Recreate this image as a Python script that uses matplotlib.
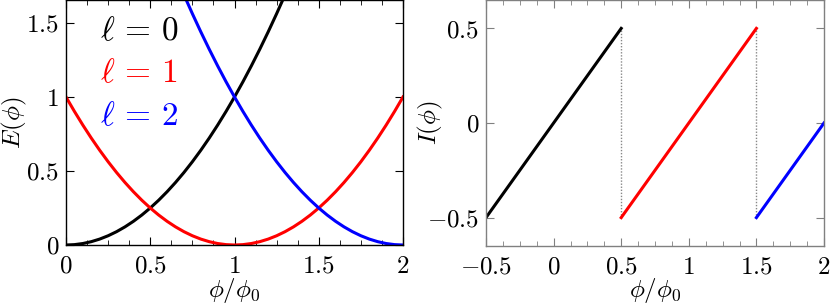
import matplotlib
matplotlib.use("Agg")
import matplotlib.pyplot as plt
from matplotlib.ticker import MultipleLocator

plt.rcParams['mathtext.fontset'] = 'cm'
plt.rcParams['font.family'] = ['DejaVu Serif']

# ---- data ----
phi_l0 = [0.00, 0.05, 0.10, 0.15, 0.20, 0.25, 0.30, 0.35, 0.40, 0.45, 0.50, 0.55, 0.60,
          0.65, 0.70, 0.75, 0.80, 0.85, 0.90, 0.95, 1.00, 1.05, 1.10, 1.15, 1.20, 1.25, 1.30]
E_l0 = [0.0, 0.0025, 0.01, 0.0225, 0.04, 0.0625, 0.09, 0.1225, 0.16, 0.2025, 0.25, 0.3025, 0.36,
        0.4225, 0.49, 0.5625, 0.64, 0.7225, 0.81, 0.9025, 1.0, 1.1025, 1.21, 1.3225, 1.44, 1.5625, 1.69]

phi_l1 = [0.00, 0.05, 0.10, 0.15, 0.20, 0.25, 0.30, 0.35, 0.40, 0.45, 0.50, 0.55, 0.60, 0.65,
          0.70, 0.75, 0.80, 0.85, 0.90, 0.95, 1.00, 1.05, 1.10, 1.15, 1.20, 1.25, 1.30, 1.35,
          1.40, 1.45, 1.50, 1.55, 1.60, 1.65, 1.70, 1.75, 1.80, 1.85, 1.90, 1.95, 2.00]
E_l1 = [1.0, 0.9025, 0.81, 0.7225, 0.64, 0.5625, 0.49, 0.4225, 0.36, 0.3025, 0.25, 0.2025, 0.16,
        0.1225, 0.09, 0.0625, 0.04, 0.0225, 0.01, 0.0025, 0.0, 0.0025, 0.01, 0.0225, 0.04, 0.0625,
        0.09, 0.1225, 0.16, 0.2025, 0.25, 0.3025, 0.36, 0.4225, 0.49, 0.5625, 0.64, 0.7225, 0.81,
        0.9025, 1.0]

phi_l2 = [0.70, 0.75, 0.80, 0.85, 0.90, 0.95, 1.00, 1.05, 1.10, 1.15, 1.20, 1.25, 1.30, 1.35,
          1.40, 1.45, 1.50, 1.55, 1.60, 1.65, 1.70, 1.75, 1.80, 1.85, 1.90, 1.95, 2.00]
E_l2 = [1.69, 1.5625, 1.44, 1.3225, 1.21, 1.1025, 1.0, 0.9025, 0.81, 0.7225, 0.64, 0.5625, 0.49,
        0.4225, 0.36, 0.3025, 0.25, 0.2025, 0.16, 0.1225, 0.09, 0.0625, 0.04, 0.0225, 0.01,
        0.0025, 0.0]

I_phi_l0 = [-0.5, 0.5]
I_l0 = [-0.5, 0.5]
I_phi_l1 = [0.5, 1.5]
I_l1 = [-0.5, 0.5]
I_phi_l2 = [1.5, 2.0]
I_l2 = [-0.5, 0.0]
jump_phi = [0.5, 1.5]
jump_lo = -0.5
jump_hi = 0.5

labels = [r'$\ell\,=\,0$', r'$\ell\,=\,1$', r'$\ell\,=\,2$']
colors = ['black', 'red', 'blue']

left_xticks = [0, 0.5, 1, 1.5, 2]
left_xticklabels = ['$0$', '$0.5$', '$1$', '$1.5$', '$2$']
left_yticks = [0, 0.5, 1, 1.5]
left_yticklabels = ['$0$', '$0.5$', '$1$', '$1.5$']
right_xticks = [-0.5, 0, 0.5, 1, 1.5, 2]
right_xticklabels = ['$-0.5$', '$0$', '$0.5$', '$1$', '$1.5$', '$2$']
right_yticks = [-0.5, 0, 0.5]
right_yticklabels = ['$-0.5$', '$0$', '$0.5$']

# ---- figure ----
fig = plt.figure(figsize=(8.3, 3.03), dpi=100)
W, H = 830, 303
ax1 = fig.add_axes([66 / W, 1 - 245 / H, (403 - 66) / W, 245 / H])
ax2 = fig.add_axes([486 / W, 1 - 246 / H, (824 - 486) / W, 246 / H])

lw = 2.2
ax1.plot(phi_l0, E_l0, color=colors[0], lw=lw)
ax1.plot(phi_l1, E_l1, color=colors[1], lw=lw)
ax1.plot(phi_l2, E_l2, color=colors[2], lw=lw)
ax1.set_xlim(0, 2)
ax1.set_ylim(0, 1.655)

baselines = [0.837, 0.665, 0.49]
for lab, c, yb in zip(labels, colors, baselines):
    ax1.text(0.1, yb, lab, transform=ax1.transAxes, color=c,
             fontsize=24, ha='left', va='baseline')

ax2.plot(I_phi_l0, I_l0, color=colors[0], lw=lw)
ax2.plot(I_phi_l1, I_l1, color=colors[1], lw=lw)
ax2.plot(I_phi_l2, I_l2, color=colors[2], lw=lw)
for xp in jump_phi:
    ax2.plot([xp, xp], [jump_lo, jump_hi], color='#888888', lw=1.0,
             ls=(0, (1, 1.2)), zorder=1)
ax2.set_xlim(-0.5, 2)
ax2.set_ylim(-0.65, 0.65)

fs = 18
for ax, xt, xtl, yt, ytl, sc in [
        (ax1, left_xticks, left_xticklabels, left_yticks, left_yticklabels, 'black'),
        (ax2, right_xticks, right_xticklabels, right_yticks, right_yticklabels, '#808080')]:
    ax.set_xticks(xt)
    ax.set_xticklabels(xtl, fontsize=fs)
    ax.set_yticks(yt)
    ax.set_yticklabels(ytl, fontsize=fs)
    ax.xaxis.set_minor_locator(MultipleLocator(0.125))
    ax.tick_params(which='both', direction='in', top=True, right=True, color=sc)
    ax.tick_params(which='major', length=5.8, width=0.8)
    ax.tick_params(which='minor', length=3.3, width=0.6)
    ax.tick_params(axis='x', which='major', pad=7)
    ax.tick_params(axis='y', which='major', pad=5)
    for s in ax.spines.values():
        s.set_color(sc)
        s.set_linewidth(1.0)
    ax.set_xlabel(r'$\phi/\phi_0$', fontsize=fs)

ax1.set_ylabel(r'$E(\phi)$', fontsize=fs)
ax2.set_ylabel(r'$I(\phi)$', fontsize=fs)
ax1.yaxis.set_label_coords(-0.11, 0.5)
ax2.yaxis.set_label_coords(-0.12, 0.5)
ax1.xaxis.set_label_coords(0.5, -0.125)
ax2.xaxis.set_label_coords(0.5, -0.12)

fig.savefig('out.png', dpi=100)
